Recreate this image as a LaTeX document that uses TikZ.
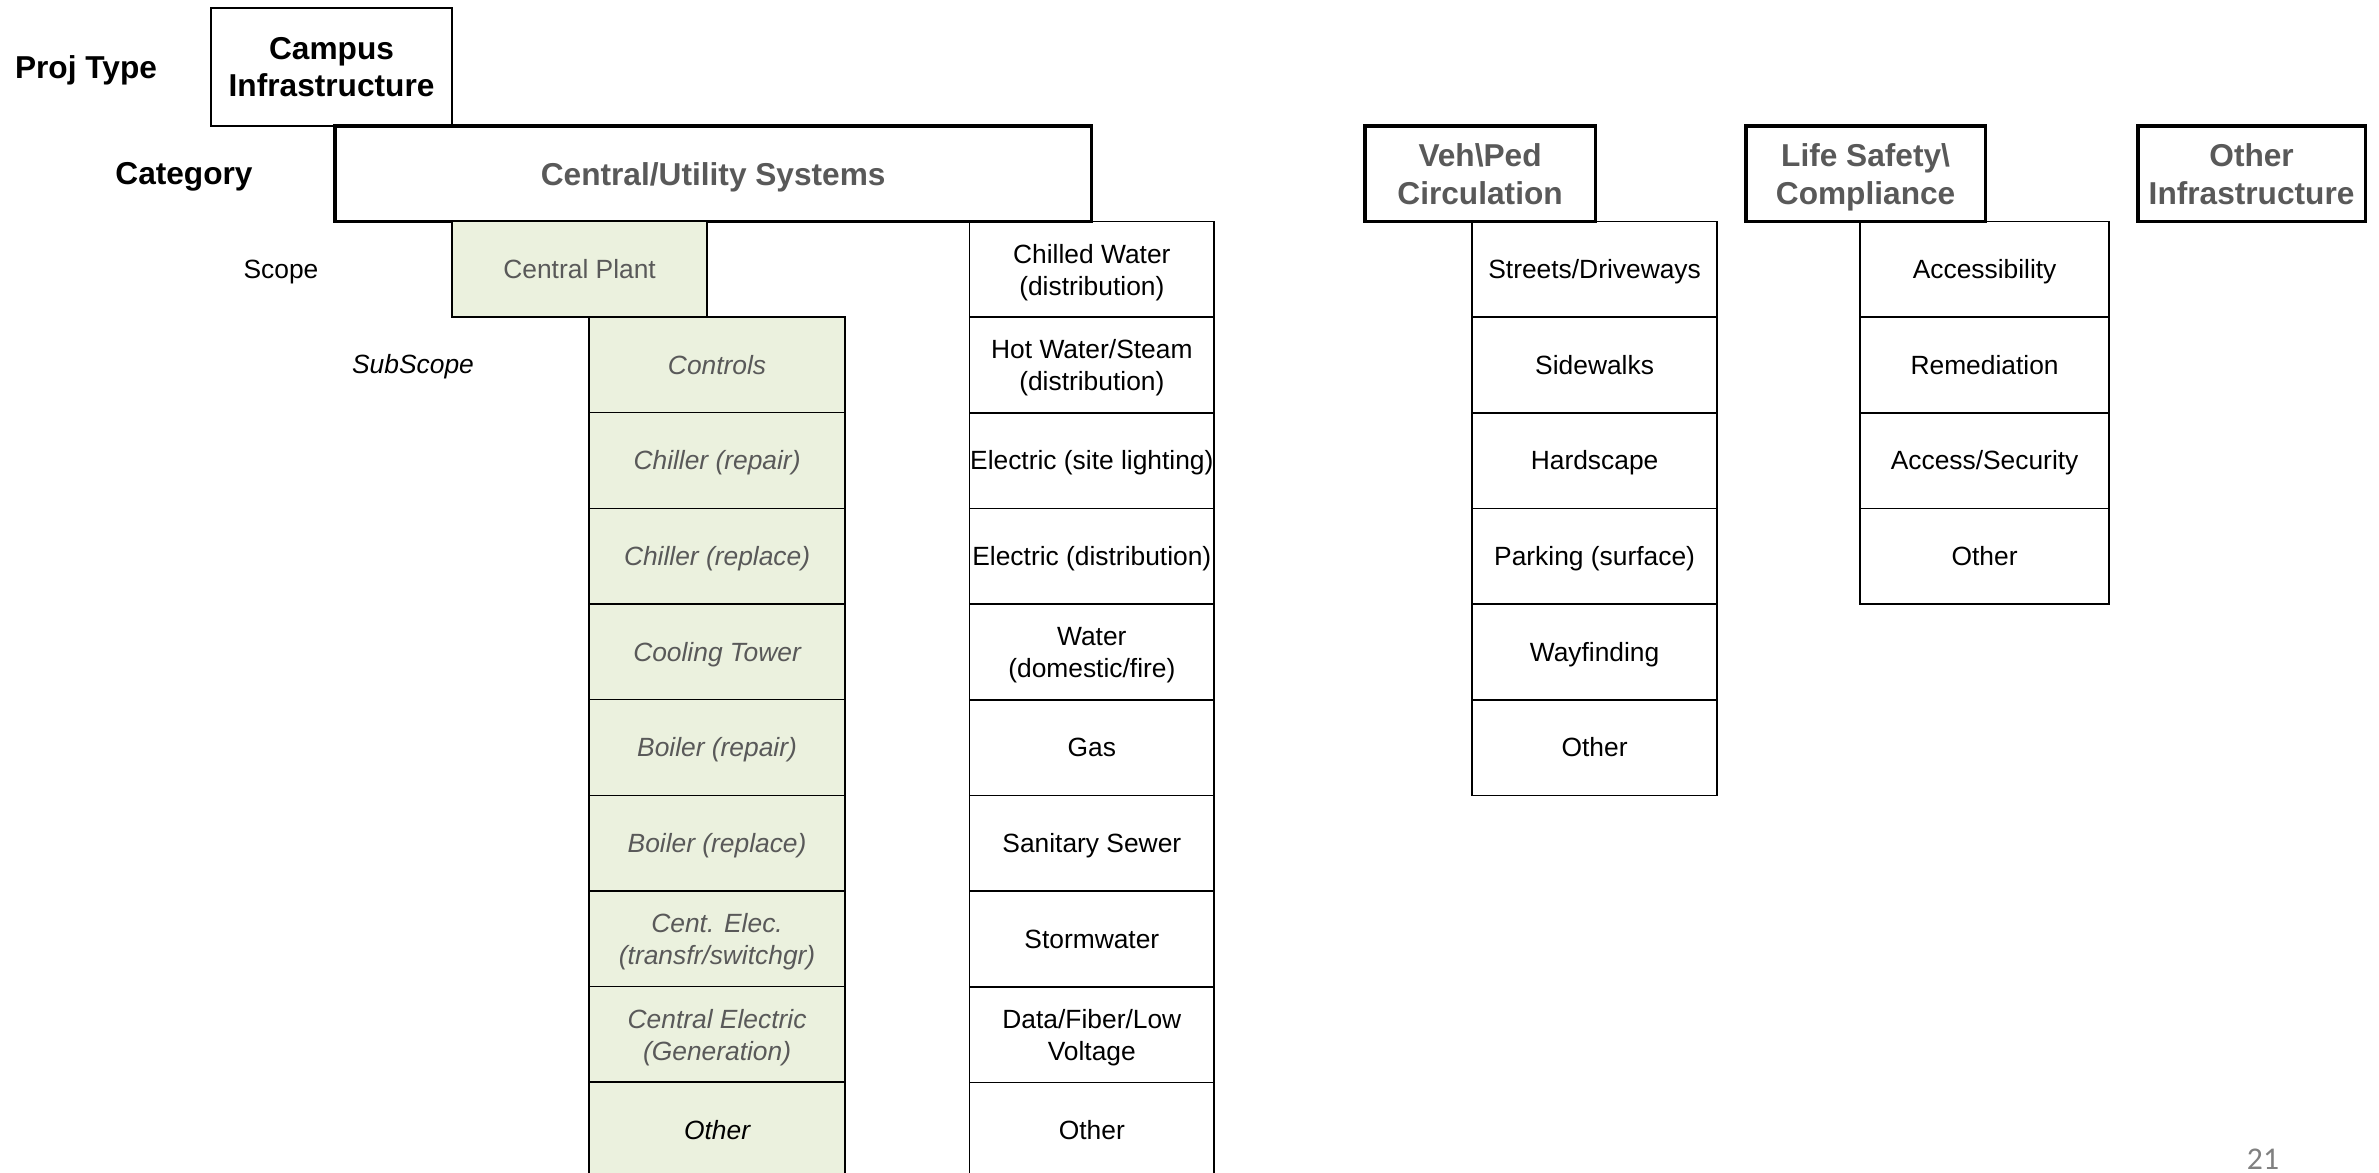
\documentclass[tikz,border=0pt]{standalone}
\usepackage{fontspec}
\setmainfont{Liberation Sans}
\newfontfamily\slidefont{Carlito}
\usepackage{xcolor}
\usetikzlibrary{positioning}

\definecolor{plantgreen}{HTML}{EBF1DE}
\definecolor{headgray}{HTML}{595959}

% struts so the text sits like in the slide
\newcommand{\cellstrut}{\rule[-1.6pt]{0pt}{8.5pt}}
\newcommand{\headstrut}{\rule[-1.9pt]{0pt}{10.4pt}}

\tikzset{
  cell/.style={draw, line width=0.45pt, outer sep=0pt, inner sep=0pt,
    minimum width=2.45cm, minimum height=0.956cm, align=center,
    font=\fontsize{7.5}{9.1}\selectfont,
    execute at begin node=\cellstrut, execute at end node=\cellstrut},
  twoline/.style={execute at begin node=\rule{0pt}{16.2pt}},
  plantcell/.style={cell, fill=plantgreen, text=headgray, minimum width=2.56cm,
    font=\fontsize{7.5}{9.1}\selectfont\itshape},
  headbox/.style={draw, line width=0.9pt, outer sep=0pt, inner sep=0pt,
    minimum height=0.956cm, align=center, text=headgray,
    font=\fontsize{9}{10.85}\selectfont\bfseries,
    execute at begin node=\headstrut, execute at end node=\headstrut},
  headtwo/.style={execute at begin node=\rule{0pt}{19.6pt}},
  levellabel/.style={font=\fontsize{9}{10.6}\selectfont\bfseries},
}

\begin{document}
\begin{tikzpicture}[x=0.01cm, y=-0.01cm]
	\useasboundingbox (0,0) rectangle (2379,1172);

	% level names on the left
	\node[levellabel] (ptype) at (86,70) {Proj Type};
	\node[levellabel] (cat) at (184,177) {Category};
	\node[font=\fontsize{7.5}{9.1}\selectfont] (scope) at (281,272) {Scope};
	\node[font=\fontsize{7.5}{9.1}\selectfont\itshape] (subscope) at (413,367) {SubScope};

	% project type
	\node[draw, line width=0.45pt, outer sep=0pt, inner sep=0pt, minimum width=2.41cm,
		minimum height=1.18cm, align=center, levellabel, anchor=north west] (campus) at (211,8) {Campus\\Infrastructure};

	% categories
	\node[headbox, minimum width=7.56cm, anchor=north west] (util) at (335,126) {Central/Utility Systems};
	\node[headbox, headtwo, minimum width=2.30cm, anchor=north west] (vehped) at (1365,126) {Veh\textbackslash Ped\\Circulation};
	\node[headbox, headtwo, minimum width=2.39cm, anchor=north west] (lifesafe) at (1746,126) {Life Safety\textbackslash\\Compliance};
	\node[headbox, headtwo, minimum width=2.27cm, anchor=north west] (otherinf) at (2138,126) {Other\\Infrastructure};

	% central plant and its subscopes
	\node[plantcell, font=\fontsize{7.5}{9.1}\selectfont, minimum width=2.55cm, anchor=north west] (plant) at (452,221.5) {Central Plant};
	\node[plantcell, anchor=north west] (controls) at (589,317) {Controls};
	\node[plantcell, below=0pt of controls] (chrepair) {Chiller (repair)};
	\node[plantcell, below=0pt of chrepair] (chreplace) {Chiller (replace)};
	\node[plantcell, below=0pt of chreplace] (tower) {Cooling Tower};
	\node[plantcell, below=0pt of tower] (blrepair) {Boiler (repair)};
	\node[plantcell, below=0pt of blrepair] (blreplace) {Boiler (replace)};
	\node[plantcell, twoline, below=0pt of blreplace] (centelec) {Cent. Elec.\\(transfr/switchgr)};
	\node[plantcell, twoline, below=0pt of centelec] (centgen) {Central Electric\\(Generation)};
	\node[plantcell, text=black, below=0pt of centgen] (plantother) {Other};

	% utility distribution
	\node[cell, twoline, minimum width=2.445cm, anchor=north west] (chw) at (969.5,221.5) {Chilled Water\\(distribution)};
	\node[cell, twoline, minimum width=2.445cm, below=0pt of chw] (hws) {Hot Water/Steam\\(distribution)};
	\node[cell, minimum width=2.445cm, below=0pt of hws] (sitelight) {Electric (site lighting)};
	\node[cell, minimum width=2.445cm, below=0pt of sitelight] (elecdist) {Electric (distribution)};
	\node[cell, twoline, minimum width=2.445cm, below=0pt of elecdist] (water) {Water\\(domestic/fire)};
	\node[cell, minimum width=2.445cm, below=0pt of water] (gas) {Gas};
	\node[cell, minimum width=2.445cm, below=0pt of gas] (sewer) {Sanitary Sewer};
	\node[cell, minimum width=2.445cm, below=0pt of sewer] (storm) {Stormwater};
	\node[cell, twoline, minimum width=2.445cm, below=0pt of storm] (lowvolt) {Data/Fiber/Low\\Voltage};
	\node[cell, minimum width=2.445cm, below=0pt of lowvolt] (utilother) {Other};

	% vehicle / pedestrian
	\node[cell, anchor=north west] (streets) at (1472,221.5) {Streets/Driveways};
	\node[cell, below=0pt of streets] (sidewalks) {Sidewalks};
	\node[cell, below=0pt of sidewalks] (hardscape) {Hardscape};
	\node[cell, below=0pt of hardscape] (parking) {Parking (surface)};
	\node[cell, below=0pt of parking] (wayfind) {Wayfinding};
	\node[cell, below=0pt of wayfind] (vehother) {Other};

	% life safety
	\node[cell, minimum width=2.49cm, anchor=north west] (access) at (1860,221.5) {Accessibility};
	\node[cell, minimum width=2.49cm, below=0pt of access] (remed) {Remediation};
	\node[cell, minimum width=2.49cm, below=0pt of remed] (security) {Access/Security};
	\node[cell, minimum width=2.49cm, below=0pt of security] (lifeother) {Other};

	\node[text=gray, font=\slidefont\fontsize{9}{10}\selectfont] (pagenum) at (2263,1159) {21};
\end{tikzpicture}
\end{document}
